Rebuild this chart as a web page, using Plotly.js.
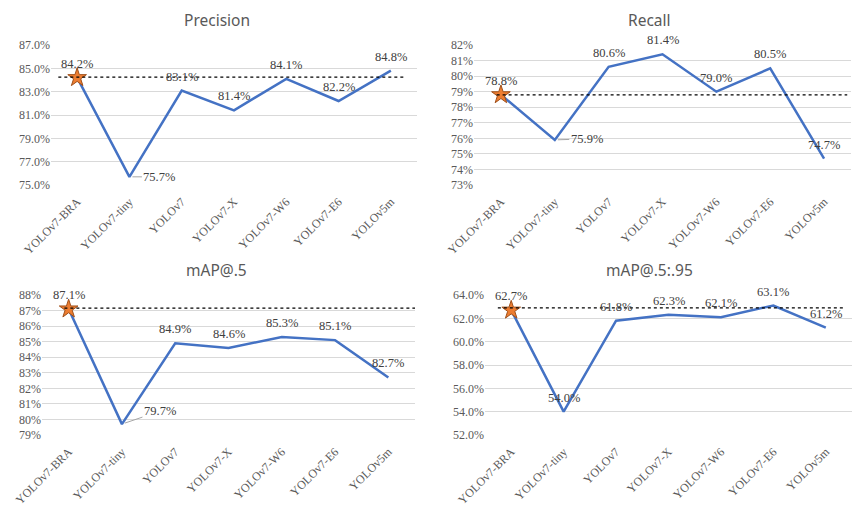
<!DOCTYPE html>
<html>
<head>
<meta charset="utf-8">
<script src="https://cdn.plot.ly/plotly-3.0.1.min.js"></script>
<style>
  body { margin: 0; background: #fff; }
  #chart { width: 866px; height: 510px; }
</style>
</head>
<body>
<div id="chart"></div>
<script>
// data
var models = ['YOLOv7-BRA', 'YOLOv7-tiny', 'YOLOv7', 'YOLOv7-X', 'YOLOv7-W6', 'YOLOv7-E6', 'YOLOv5m'];

var precision = [84.2, 75.7, 83.1, 81.4, 84.1, 82.2, 84.8];
var recall = [78.8, 75.9, 80.6, 81.4, 79.0, 80.5, 74.7];
var map50 = [87.1, 79.7, 84.9, 84.6, 85.3, 85.1, 82.7];
var map5095 = [62.7, 54.0, 61.8, 62.3, 62.1, 63.1, 61.2];

var panelTitles = ['Precision', 'Recall', 'mAP@.5', 'mAP@.5:.95'];
var baselines = [84.25, 78.8, 87.15, 62.9];   // dotted reference lines
var yRanges = [[75, 87], [73, 82], [79, 88], [52, 64]];
var ySteps = [2, 1, 1, 2];

// layout bits (pixels measured on the 866x510 picture)
var W = 866, H = 510;
var boxes = [
  {x0: 51, x1: 417, y0: 45, y1: 185},
  {x0: 474, x1: 851, y0: 45, y1: 185},
  {x0: 42, x1: 415, y0: 295, y1: 435},
  {x0: 485, x1: 852, y0: 295, y1: 435}
];
var dashSpan = [[0.02, 0.97], [0.06, 0.99], [0.06, 1.0], [0.035, 0.98]];
var yFormats = ['.1f', '.0f', '.0f', '.1f'];
var titlePos = [[0.25, 20], [0.75, 20], [0.25, 270], [0.75, 270]];
var leaders = [[1, 30, 0], [1, 32, -1], [1, 38, -13], null];  // [index, ax, ay]

var series = [precision, recall, map50, map5095];

var LINE = '#4472C4';
var STAR = '#ED7D31';
var GRID = '#d9d9d9';
var serif = "'Liberation Serif', 'Times New Roman', serif";

var data = [];
var annotations = [];
var shapes = [];
var layout = {
  width: W,
  height: H,
  margin: {l: 0, r: 0, t: 0, b: 0},
  paper_bgcolor: '#fff',
  plot_bgcolor: '#fff',
  showlegend: false
};

series.forEach(function (vals, i) {
  var n = i + 1;
  var xa = 'x' + (n === 1 ? '' : n);
  var ya = 'y' + (n === 1 ? '' : n);
  var b = boxes[i];

  data.push({
    x: models, y: vals, xaxis: xa, yaxis: ya,
    type: 'scatter', mode: 'lines',
    line: {color: LINE, width: 2.5},
    hoverinfo: 'skip'
  });
  // star on the proposed model
  data.push({
    x: [models[0]], y: [vals[0]], xaxis: xa, yaxis: ya,
    type: 'scatter', mode: 'markers',
    marker: {symbol: 'star', size: 14, color: STAR, line: {color: '#a0501a', width: 1}},
    hoverinfo: 'skip'
  });

  layout['xaxis' + (n === 1 ? '' : n)] = {
    domain: [b.x0 / W, b.x1 / W],
    anchor: ya,
    type: 'category',
    range: [-0.5, 6.5],
    showgrid: false, zeroline: false, showline: false,
    ticks: 'outside', ticklen: 4, tickcolor: 'rgba(0,0,0,0)',
    tickangle: -45,
    tickfont: {family: serif, size: 12, color: '#595959'}
  };
  layout['yaxis' + (n === 1 ? '' : n)] = {
    domain: [1 - b.y1 / H, 1 - b.y0 / H],
    anchor: xa,
    range: yRanges[i],
    dtick: ySteps[i],
    tick0: yRanges[i][0],
    tickformat: yFormats[i],
    ticksuffix: '%',
    showgrid: true, gridcolor: GRID, gridwidth: 1,
    zeroline: false, showline: false,
    ticks: '',
    tickfont: {family: serif, size: 12, color: '#595959'}
  };

  shapes.push({
    type: 'line', xref: xa + ' domain', yref: ya,
    x0: dashSpan[i][0], x1: dashSpan[i][1], y0: baselines[i], y1: baselines[i],
    line: {color: '#000', width: 1.3, dash: 'dot'}
  });

  annotations.push({
    xref: 'paper', yref: 'paper',
    x: titlePos[i][0], y: 1 - titlePos[i][1] / H,
    xanchor: 'center', yanchor: 'middle',
    text: panelTitles[i], showarrow: false,
    font: {family: "'Noto Sans', 'Open Sans', sans-serif", size: 15.5, color: '#595959'}
  });

  vals.forEach(function (v, k) {
    var lead = leaders[i];
    var ann = {
      xref: xa, yref: ya, x: models[k], y: v,
      text: v.toFixed(1) + '%',
      font: {family: serif, size: 12.5, color: '#404040'}
    };
    if (lead && lead[0] === k) {
      ann.showarrow = true;
      ann.ax = lead[1];
      ann.ay = lead[2];
      ann.arrowhead = 0;
      ann.arrowwidth = 1;
      ann.arrowcolor = '#a6a6a6';
      ann.standoff = 3;
    } else {
      ann.showarrow = false;
      ann.yshift = 14;
    }
    annotations.push(ann);
  });
});

layout.shapes = shapes;
layout.annotations = annotations;

Plotly.newPlot('chart', data, layout, {displayModeBar: false, staticPlot: true});
</script>
</body>
</html>
